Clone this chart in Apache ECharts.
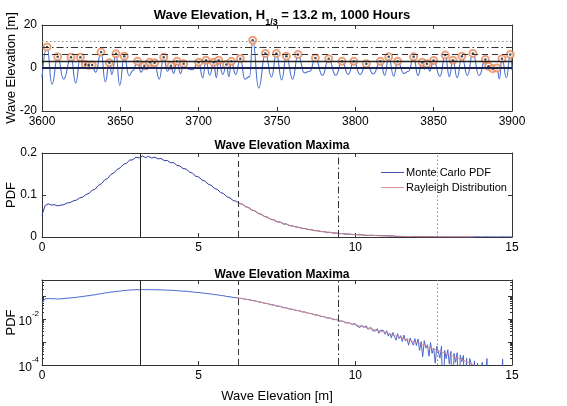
<!DOCTYPE html>
<html>
<head>
<meta charset="utf-8">
<script src="https://cdn.jsdelivr.net/npm/echarts@6/dist/echarts.min.js"></script>
<style>
html, body { margin: 0; padding: 0; background: #fff; }
#chart { width: 567px; height: 406px; }
</style>
</head>
<body>
<div id="chart"></div>
<script>
// wave elevation record, read at the crests and troughs (time [s], elevation [m])
const waveT = [
  3600.0, 3603.2, 3606.4, 3610.0, 3613.8, 3618.5, 3621.5, 3624.5, 3626.6, 3627.7,
  3628.8, 3629.8, 3630.9, 3632.0, 3634.3, 3637.7, 3640.4, 3643.0, 3644.6, 3647.2,
  3649.6, 3652.5, 3655.6, 3658.0, 3661.0, 3663.2, 3665.3, 3666.8, 3668.7, 3670.3,
  3671.9, 3674.8, 3677.7, 3680.0, 3682.3, 3684.0, 3686.2, 3688.4, 3690.4, 3693.0,
  3696.0, 3700.0, 3702.6, 3704.7, 3707.0, 3709.6, 3711.3, 3712.8, 3715.4, 3717.7,
  3719.3, 3720.9, 3723.6, 3726.6, 3729.5, 3732.5, 3734.5, 3738.3, 3742.6, 3746.5,
  3749.6, 3753.0, 3756.0, 3760.0, 3763.4, 3767.5, 3771.0, 3774.5, 3779.0, 3783.0,
  3787.5, 3791.5, 3795.5, 3799.0, 3803.0, 3807.0, 3811.5, 3816.0, 3818.8, 3821.3,
  3824.5, 3827.0, 3831.0, 3834.0, 3837.2, 3840.0, 3842.6, 3844.2, 3845.7, 3847.5,
  3850.0, 3854.0, 3857.4, 3860.0, 3862.3, 3865.0, 3868.0, 3871.5, 3875.0, 3879.0,
  3883.0, 3884.0, 3885.0, 3886.4, 3887.7, 3889.0, 3890.4, 3892.0, 3893.6, 3896.5,
  3898.9, 3900.0
];
const waveH = [
  -4.5, 9.8, -7.5, 5.2, -5.2, 5.0, -7.0, 5.0, 0.5, 1.6,
  0.6, 1.3, 0.5, 1.4, -2.0, 7.4, -6.5, 2.4, -3.0, 6.6,
  -8.0, 5.5, -3.6, -1.2, 3.1, -2.0, 1.1, -0.8, 2.7, 0.8,
  2.4, -5.2, 5.0, -1.5, 1.1, -2.5, 3.1, -2.6, 2.0, -0.3,
  -0.8, 2.7, -4.5, 3.6, -3.4, 2.7, -4.5, 3.6, -3.0, 1.6,
  -4.0, 3.1, -3.0, 4.3, -5.2, -4.0, 12.9, -9.3, 6.8, -4.2,
  6.8, -5.5, 5.5, -5.2, 6.3, -2.3, -1.5, 4.7, -3.4, 4.3,
  -3.4, 3.1, -3.0, 3.1, -3.0, 2.0, -2.8, 3.1, -3.4, 5.2,
  -3.8, 3.1, -2.5, -1.5, 5.2, -3.5, 2.7, -0.5, 2.0, -1.5,
  3.5, -3.8, 6.0, -4.0, 3.6, -4.5, 5.5, -3.5, 6.8, -3.5,
  3.9, 0.3, 0.8, -1.0, -0.3, -1.5, 0.0, -5.0, 4.3, -4.5,
  6.3, -1.0
];

// statistic levels [m]: mean maxima, 1/3, 1/10, 1/100
const levels = [3.15, 6.27, 9.47, 12.62];

// Monte Carlo PDF of maxima, bins 0.0 .. 9.9 (step 0.1)
const mcStepA = 0.1;
const mcPdfA = [
  0.052, 0.075, 0.079, 0.076, 0.077, 0.074, 0.076, 0.077, 0.081, 0.082,
  0.086, 0.088, 0.093, 0.095, 0.101, 0.104, 0.111, 0.114, 0.123, 0.127,
  0.136, 0.140, 0.149, 0.153, 0.161, 0.165, 0.173, 0.176, 0.183, 0.184,
  0.190, 0.188, 0.193, 0.189, 0.192, 0.188, 0.190, 0.186, 0.187, 0.182,
  0.182, 0.177, 0.177, 0.171, 0.169, 0.163, 0.162, 0.155, 0.152, 0.145,
  0.143, 0.136, 0.133, 0.126, 0.123, 0.116, 0.113, 0.106, 0.103, 0.096,
  0.093, 0.087, 0.085, 0.080, 0.078, 0.072, 0.070, 0.064, 0.062, 0.056,
  0.054, 0.049, 0.047, 0.042, 0.041, 0.036, 0.036, 0.031, 0.031, 0.027,
  0.0265, 0.0238, 0.0231, 0.0205, 0.0201, 0.0176, 0.0174, 0.0151, 0.0150, 0.0129,
  0.0128, 0.0110, 0.0111, 0.0094, 0.0096, 0.0080, 0.0082, 0.0067, 0.0070, 0.0058
];
// tail bins 10.00 .. 15.00 (step 0.05); 0.000001 = empty bin
const mcStartB = 10;
const mcStepB = 0.05;
const mcPdfB = [
  0.0063, 0.0049, 0.0055, 0.0043, 0.0055, 0.0044, 0.0040, 0.0050, 0.0036, 0.0039,
  0.0043, 0.0031, 0.0037, 0.0030, 0.0038, 0.0024, 0.0032, 0.0027, 0.0032, 0.0022,
  0.0031, 0.0018, 0.0024, 0.0015, 0.0026, 0.0017, 0.0012, 0.0023, 0.0014, 0.0019,
  0.00105, 0.0020, 0.0011, 0.0014, 0.00073, 0.0015, 0.00099, 0.00073, 0.0014, 0.0007,
  0.00135, 0.00043, 0.00104, 0.00023, 0.00114, 0.00054, 0.00076, 0.00024, 0.00095, 0.00032,
  0.00055, 0.00012, 0.00066, 0.00037, 0.0002, 0.00067, 0.000001, 0.00043, 0.00019, 0.00046,
  0.00011, 0.00039, 0.000001, 0.00032, 0.00013, 0.00034, 0.000001, 0.00027, 0.00014, 0.00026,
  0.000001, 0.0002, 0.000001, 0.00019, 0.00011, 0.000001, 0.00015, 0.000001, 0.00012, 0.000001,
  0.000001, 0.00013, 0.000001, 0.000001, 0.00019, 0.000001, 0.000001, 0.000001, 0.000001, 0.000001,
  0.000001, 0.000001, 0.000001, 0.000001, 0.00018, 0.000001, 0.000001, 0.000001, 0.000001, 0.000001,
  0.000001
];

// Rayleigh distribution, 6.2 .. 13.8 (step 0.2)
const rayStart = 6.2;
const rayStep = 0.2;
const rayPdf = [
  0.084, 0.077, 0.069, 0.061, 0.053, 0.046, 0.040, 0.035, 0.030, 0.026,
  0.0226, 0.0196, 0.0169, 0.0146, 0.0125, 0.0107, 0.0092, 0.0078, 0.0067, 0.0057,
  0.0048, 0.0041, 0.0035, 0.0029, 0.0025, 0.0020, 0.00166, 0.00135, 0.00110, 0.00090,
  0.00071, 0.00056, 0.00044, 0.00035, 0.00028, 0.00022, 0.00017, 0.00013, 0.00010
];

const FONT = 'Liberation Sans, Arial, sans-serif';
const AXC = '#333';
const dashes = ['solid', [6, 4], [7, 3, 1.5, 3], [1.5, 2.5]];
const dashColors = ['#222', '#333', '#333', '#888'];

// build pairs
const wave = waveT.map((t, i) => [t, waveH[i]]);
const maxima = [];
for (let i = 1; i < waveH.length - 1; i++) {
  if (waveH[i] > waveH[i - 1] && waveH[i] > waveH[i + 1]) maxima.push([waveT[i], waveH[i]]);
}
const mcPdf = mcPdfA.map((v, i) => [+(i * mcStepA).toFixed(2), v])
  .concat(mcPdfB.map((v, i) => [+(mcStartB + i * mcStepB).toFixed(2), v]));
const ray = rayPdf.map((v, i) => [+(rayStart + i * rayStep).toFixed(2), v]);

function axisBase(extra) {
  return Object.assign({
    type: 'value',
    nameMoveOverlap: false,
    axisLine: { show: true, onZero: false, lineStyle: { color: AXC, width: 1 } },
    axisTick: { show: true, inside: true, length: 4, lineStyle: { color: AXC } },
    splitLine: { show: false },
    axisLabel: { color: '#000', fontFamily: FONT, fontSize: 12, margin: 5, formatter: v => String(v) },
    nameTextStyle: { color: '#000', fontFamily: FONT, fontSize: 13 }
  }, extra);
}
function mirror(a, pos) {
  return Object.assign({}, a, { position: pos, name: '', axisLabel: { show: false } });
}

const xTop = axisBase({ gridIndex: 0, min: 3600, max: 3900, interval: 50, position: 'bottom' });
const xMid = axisBase({ gridIndex: 1, min: 0, max: 15, interval: 5, position: 'bottom' });
const xBot = axisBase({ gridIndex: 2, min: 0, max: 15, interval: 5, position: 'bottom',
  name: 'Wave Elevation [m]', nameLocation: 'middle', nameGap: 25 });
const yTop = axisBase({ gridIndex: 0, min: -20, max: 20, interval: 20, position: 'left',
  name: 'Wave Elevation [m]', nameLocation: 'middle', nameGap: 24 });
const yMid = axisBase({ gridIndex: 1, min: 0, max: 0.2, interval: 0.1, position: 'left',
  name: 'PDF', nameLocation: 'middle', nameGap: 24 });
const yBot = axisBase({ gridIndex: 2, type: 'log', logBase: 10, min: 0.0001, max: 0.5, position: 'left',
  name: 'PDF', nameLocation: 'middle', nameGap: 24,
  minorTick: { show: true, splitNumber: 9, length: 2, lineStyle: { color: AXC } },
  axisLabel: {
    color: '#000', fontFamily: FONT, margin: 3,
    formatter: function (v) {
      const lg = Math.log10(v);
      const e = Math.round(lg);
      if (Math.abs(lg - e) > 1e-6 || e % 2 !== 0) return '';
      return '{b|10}{s|' + e + '}';
    },
    rich: {
      b: { fontSize: 12, fontFamily: FONT, color: '#000', lineHeight: 18, verticalAlign: 'bottom' },
      s: { fontSize: 8, fontFamily: FONT, color: '#000', lineHeight: 18, verticalAlign: 'top' }
    }
  } });

function vLines() {
  return {
    silent: true, symbol: 'none', label: { show: false },
    data: levels.map((v, i) => ({ xAxis: v, lineStyle: { type: dashes[i], color: dashColors[i], width: 1 } }))
  };
}

const chart = echarts.init(document.getElementById('chart'));
chart.setOption({
  backgroundColor: '#fff',
  animation: false,
  title: [
    { text: 'Wave Elevation, H{sub|1/3} = 13.2 m, 1000 Hours', left: 277, top: 1, textAlign: 'center',
      textStyle: { fontFamily: FONT, fontSize: 13, fontWeight: 'bold', color: '#000', lineHeight: 18,
        rich: { sub: { fontFamily: FONT, fontSize: 9, fontWeight: 'bold', color: '#000',
          lineHeight: 18, verticalAlign: 'bottom', padding: [0, 0, -3, 0] } } } },
    { text: 'Wave Elevation Maxima', left: 277, top: 135, textAlign: 'center',
      textStyle: { fontFamily: FONT, fontSize: 12, fontWeight: 'bold', color: '#000' } },
    { text: 'Wave Elevation Maxima', left: 277, top: 264, textAlign: 'center',
      textStyle: { fontFamily: FONT, fontSize: 12, fontWeight: 'bold', color: '#000' } }
  ],
  legend: {
    data: ['Monte Carlo PDF', 'Rayleigh Distribution'],
    orient: 'vertical', left: 376, top: 162, itemWidth: 23, itemHeight: 10, itemGap: 4,
    icon: 'path://M0,4.5L26,4.5L26,5.5L0,5.5Z',
    textStyle: { fontFamily: FONT, fontSize: 11, color: '#000', padding: [0, 0, 0, -3] },
    selectedMode: false
  },
  grid: [
    { left: 42, right: 55, top: 25, height: 86, outerBoundsMode: 'none' },
    { left: 42, right: 55, top: 153, height: 84, outerBoundsMode: 'none' },
    { left: 42, right: 55, top: 280, height: 85, outerBoundsMode: 'none' }
  ],
  xAxis: [xTop, mirror(xTop, 'top'), xMid, mirror(xMid, 'top'), xBot, mirror(xBot, 'top')],
  yAxis: [yTop, mirror(yTop, 'right'), yMid, mirror(yMid, 'right'), yBot, mirror(yBot, 'right')],
  series: [
    {
      name: 'Wave Elevation', type: 'line', xAxisIndex: 0, yAxisIndex: 0,
      data: wave, smooth: 0.5, smoothMonotone: 'x', symbol: 'none',
      lineStyle: { color: '#4a6fcf', width: 1.1 },
      markLine: {
        silent: true, symbol: 'none', label: { show: false },
        data: [{ yAxis: 0, lineStyle: { type: 'solid', color: '#1c2350', width: 2 } }]
          .concat(levels.map((v, i) => ({ yAxis: v, lineStyle: { type: dashes[i], color: dashColors[i], width: i === 0 ? 1.3 : 1 } })))
      }
    },
    {
      name: 'Maxima', type: 'scatter', xAxisIndex: 0, yAxisIndex: 0, data: maxima,
      symbol: 'emptyCircle', symbolSize: 7, z: 4,
      itemStyle: { color: '#e58a5c', borderColor: '#e58a5c', borderWidth: 1 }
    },
    {
      name: 'Maxima mark', type: 'scatter', xAxisIndex: 0, yAxisIndex: 0, data: maxima,
      symbol: 'circle', symbolSize: 2.5, z: 5,
      itemStyle: { color: '#222' }
    },
    {
      name: 'Monte Carlo PDF', type: 'line', xAxisIndex: 2, yAxisIndex: 2, data: mcPdf,
      symbol: 'none', lineStyle: { color: '#2d3c9e', width: 1 }, color: '#2d3c9e',
      markLine: vLines()
    },
    {
      name: 'Rayleigh Distribution', type: 'line', xAxisIndex: 2, yAxisIndex: 2, data: ray,
      symbol: 'none', smooth: true, lineStyle: { color: '#d98a8a', width: 1 }, color: '#d98a8a'
    },
    {
      name: 'Monte Carlo PDF', type: 'line', xAxisIndex: 4, yAxisIndex: 4, data: mcPdf,
      symbol: 'none', lineStyle: { color: '#4a66cc', width: 1 }, color: '#2d3c9e',
      markLine: vLines()
    },
    {
      name: 'Rayleigh Distribution', type: 'line', xAxisIndex: 4, yAxisIndex: 4, data: ray,
      symbol: 'none', smooth: true, lineStyle: { color: '#d98a8a', width: 1 }, color: '#d98a8a'
    }
  ]
});
</script>
</body>
</html>
